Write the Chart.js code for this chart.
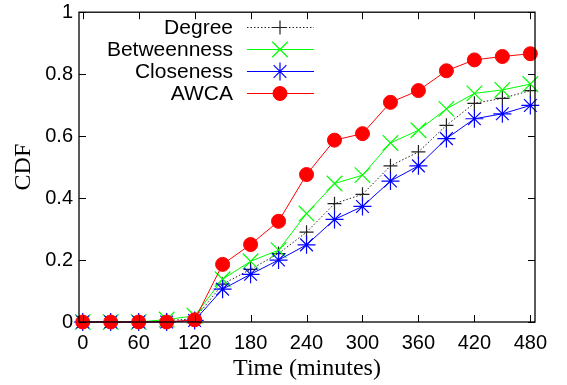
<!DOCTYPE html>
<html>
<head>
<meta charset="utf-8">
<script src="https://cdn.jsdelivr.net/npm/chart.js@4/dist/chart.umd.min.js"></script>
<style>
  html, body { margin: 0; padding: 0; background: #fff; }
  #chart { display: block; }
</style>
</head>
<body>
<canvas id="chart" width="567" height="385"></canvas>
<script>
// данные
const times = [0, 30, 60, 90, 120, 150, 180, 210, 240, 270, 300, 330, 360, 390, 420, 450, 480];
const degree = [0, 0, 0, 0.005, 0.01, 0.122, 0.17, 0.221, 0.29, 0.382, 0.412, 0.504, 0.549, 0.635, 0.706, 0.722, 0.747];
const betweenness = [0, 0, 0, 0.008, 0.02, 0.138, 0.196, 0.232, 0.35, 0.447, 0.474, 0.578, 0.619, 0.688, 0.738, 0.749, 0.768];
const closeness = [0, 0, 0, 0, 0.005, 0.106, 0.154, 0.2, 0.249, 0.331, 0.373, 0.455, 0.504, 0.592, 0.656, 0.672, 0.699];
const awca = [0, 0, 0, 0, 0.007, 0.186, 0.25, 0.325, 0.476, 0.587, 0.608, 0.709, 0.747, 0.811, 0.846, 0.857, 0.866];

const seriesNames = ['Degree', 'Betweenness', 'Closeness', 'AWCA'];
const xTicks = [0, 60, 120, 180, 240, 300, 360, 420, 480];
const yTicks = [0, 0.2, 0.4, 0.6, 0.8, 1];

const sans = 'Liberation Sans, Arial, sans-serif';
const serif = 'Liberation Serif, Times New Roman, serif';

function points(values) {
    return values.map((v, i) => ({ x: times[i], y: v }));
}

// рамка с засечками внутрь, как в gnuplot
const framePlugin = {
    id: 'frame',
    afterDatasetsDraw(chart) {
        const ctx = chart.ctx;
        const a = chart.chartArea;
        const xs = chart.scales.x, ys = chart.scales.y;
        const tl = 7;
        ctx.save();
        ctx.strokeStyle = '#000';
        ctx.lineWidth = 1.3;
        ctx.strokeRect(a.left, a.top, a.right - a.left, a.bottom - a.top);
        ctx.lineWidth = 1;
        ctx.beginPath();
        xTicks.forEach(v => {
            const px = Math.round(xs.getPixelForValue(v)) + 0.5;
            ctx.moveTo(px, a.bottom); ctx.lineTo(px, a.bottom - tl);
            ctx.moveTo(px, a.top); ctx.lineTo(px, a.top + tl);
        });
        yTicks.forEach(v => {
            const py = Math.round(ys.getPixelForValue(v)) + 0.5;
            ctx.moveTo(a.left, py); ctx.lineTo(a.left + tl, py);
            ctx.moveTo(a.right, py); ctx.lineTo(a.right - tl, py);
        });
        ctx.stroke();
        ctx.restore();
    }
};

// легенда: текст справа налево, затем образец линии с маркером
const keyPlugin = {
    id: 'key',
    afterDraw(chart) {
        const ctx = chart.ctx;
        const textRight = 233;
        const lineL = 247, lineR = 314, mark = 280;
        ctx.save();
        chart.data.datasets.forEach((ds, i) => {
            const y = 27.5 + i * 22;
            ctx.font = '21px ' + sans;
            ctx.fillStyle = '#000';
            ctx.textAlign = 'right';
            ctx.textBaseline = 'middle';
            ctx.fillText(ds.label, textRight, y + 1);

            ctx.strokeStyle = ds.borderColor;
            ctx.lineWidth = ds.borderWidth;
            ctx.setLineDash(ds.borderDash || []);
            ctx.beginPath();
            ctx.moveTo(lineL, y); ctx.lineTo(lineR, y);
            ctx.stroke();
            ctx.setLineDash([]);

            ctx.strokeStyle = ds.pointBorderColor;
            ctx.fillStyle = ds.pointBackgroundColor;
            ctx.lineWidth = ds.pointBorderWidth;
            Chart.helpers.drawPoint(ctx, {
                pointStyle: ds.pointStyle,
                radius: ds.pointRadius,
                rotation: 0,
                borderWidth: ds.pointBorderWidth
            }, mark, y);
        });
        ctx.restore();
    }
};

const ctx = document.getElementById('chart').getContext('2d');
new Chart(ctx, {
    type: 'line',
    data: {
        datasets: [
            {
                label: seriesNames[0],
                data: points(degree),
                borderColor: '#222',
                borderWidth: 1,
                borderDash: [1.5, 2],
                pointStyle: 'cross',
                pointRadius: 7,
                pointBorderColor: '#222',
                pointBackgroundColor: '#222',
                pointBorderWidth: 1.2,
                order: 4
            },
            {
                label: seriesNames[1],
                data: points(betweenness),
                borderColor: '#00ff00',
                borderWidth: 1,
                pointStyle: 'crossRot',
                pointRadius: 11,
                pointBorderColor: '#00ff00',
                pointBackgroundColor: '#00ff00',
                pointBorderWidth: 1.2,
                order: 3
            },
            {
                label: seriesNames[2],
                data: points(closeness),
                borderColor: '#0000ff',
                borderWidth: 1,
                pointStyle: 'star',
                pointRadius: 9,
                pointBorderColor: '#0000ff',
                pointBackgroundColor: '#0000ff',
                pointBorderWidth: 1.2,
                order: 2
            },
            {
                label: seriesNames[3],
                data: points(awca),
                borderColor: '#ff0000',
                borderWidth: 1,
                pointStyle: 'circle',
                pointRadius: 7,
                pointBorderColor: '#ff0000',
                pointBackgroundColor: '#ff0000',
                pointBorderWidth: 1,
                order: 1
            }
        ].map(ds => Object.assign(ds, { tension: 0, clip: false, fill: false, pointHoverRadius: ds.pointRadius }))
    },
    options: {
        responsive: false,
        animation: false,
        events: [],
        layout: { padding: { top: 9, right: 32, left: 0, bottom: 0 } },
        plugins: {
            legend: { display: false },
            tooltip: { enabled: false }
        },
        scales: {
            x: {
                type: 'linear',
                min: -4,
                max: 485,
                grid: { display: false, drawTicks: false },
                border: { display: false },
                afterBuildTicks: s => { s.ticks = xTicks.map(v => ({ value: v })); },
                afterFit: s => { s.height = 63; s.paddingLeft = 0; s.paddingRight = 0; },
                ticks: {
                    padding: 9,
                    maxRotation: 0,
                    autoSkip: false,
                    color: '#000',
                    font: { family: sans, size: 20 },
                    callback: v => String(v)
                },
                title: {
                    display: true,
                    text: 'Time (minutes)',
                    color: '#000',
                    font: { family: serif, size: 24 },
                    padding: { top: 0, bottom: 2 }
                }
            },
            y: {
                min: 0,
                max: 1,
                grid: { display: false, drawTicks: false },
                border: { display: false },
                afterBuildTicks: s => { s.ticks = yTicks.map(v => ({ value: v })); },
                afterFit: s => { s.width = 79; s.paddingTop = 0; s.paddingBottom = 0; },
                ticks: {
                    padding: 6,
                    color: '#000',
                    font: { family: sans, size: 20 },
                    callback: v => String(v)
                },
                title: {
                    display: true,
                    text: 'CDF',
                    color: '#000',
                    font: { family: serif, size: 24 },
                    padding: { top: 9, bottom: 0 }
                }
            }
        }
    },
    plugins: [framePlugin, keyPlugin]
});
</script>
</body>
</html>
